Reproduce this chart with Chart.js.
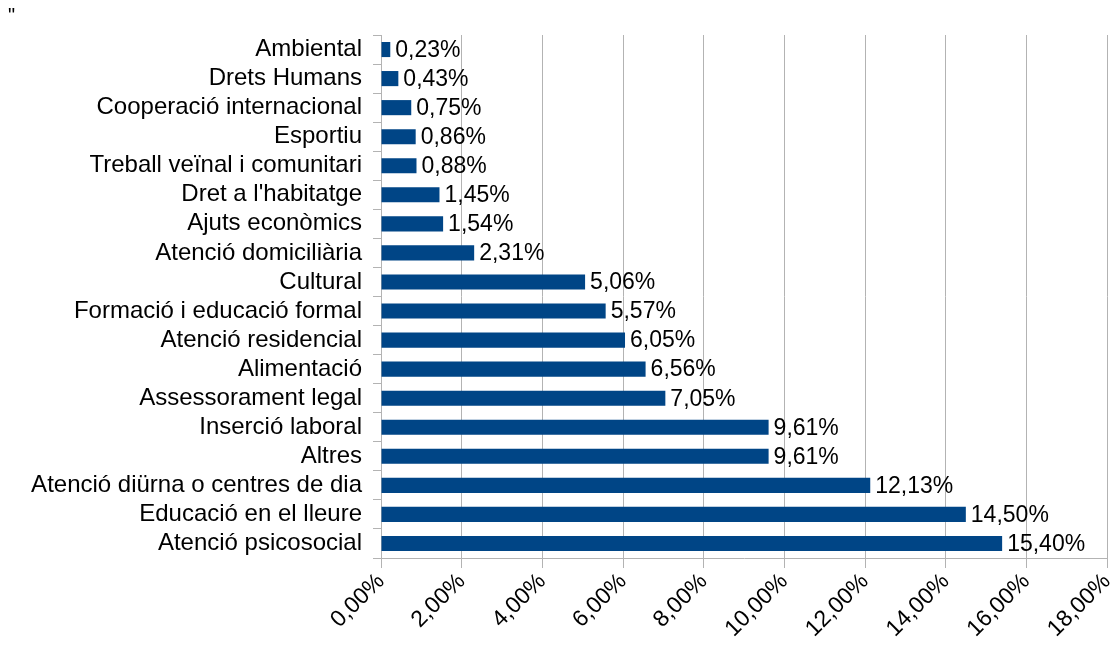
<!DOCTYPE html>
<html>
<head>
<meta charset="utf-8">
<script src="https://cdn.jsdelivr.net/npm/chart.js@4"></script>
<style>
  html, body { margin: 0; padding: 0; background: #fff; }
  #wrap { position: relative; width: 1116px; height: 650px; }
  #mark { position: absolute; left: 8px; top: 4px; font: 20px "Liberation Sans", Arial, sans-serif; color: #000; }
</style>
</head>
<body>
<div id="wrap">
  <canvas id="chart" width="1116" height="650"></canvas>
  <div id="mark">"</div>
</div>
<script>
const categories = [
  'Ambiental', 'Drets Humans', 'Cooperació internacional', 'Esportiu',
  'Treball veïnal i comunitari', "Dret a l'habitatge", 'Ajuts econòmics',
  'Atenció domiciliària', 'Cultural', 'Formació i educació formal',
  'Atenció residencial', 'Alimentació', 'Assessorament legal',
  'Inserció laboral', 'Altres', 'Atenció diürna o centres de dia',
  'Educació en el lleure', 'Atenció psicosocial'
];
const percentages = [
  0.23, 0.43, 0.75, 0.86, 0.88, 1.45, 1.54, 2.31, 5.06, 5.57,
  6.05, 6.56, 7.05, 9.61, 9.61, 12.13, 14.50, 15.40
];
const xTicks = [0, 2, 4, 6, 8, 10, 12, 14, 16, 18];

const FONT = '"Liberation Sans", Arial, sans-serif';
const fmt = v => v.toFixed(2).replace('.', ',') + '%';

const valueLabels = {
  id: 'valueLabels',
  afterDatasetsDraw(chart) {
    const ctx = chart.ctx;
    const meta = chart.getDatasetMeta(0);
    ctx.save();
    ctx.font = '23px ' + FONT;
    ctx.fillStyle = '#000';
    ctx.textAlign = 'left';
    ctx.textBaseline = 'middle';
    meta.data.forEach((bar, i) => {
      ctx.fillText(fmt(percentages[i]), bar.x + 5, bar.y + 1);
    });
    ctx.restore();
  }
};

new Chart(document.getElementById('chart'), {
  type: 'bar',
  data: {
    labels: categories,
    datasets: [{
      data: percentages,
      backgroundColor: '#004586',
      borderWidth: 0,
      barPercentage: 0.52,
      categoryPercentage: 1
    }]
  },
  options: {
    indexAxis: 'y',
    responsive: false,
    animation: false,
    layout: { padding: { top: 35, right: 9, left: 0, bottom: 0 } },
    plugins: { legend: { display: false }, tooltip: { enabled: false } },
    scales: {
      y: {
        afterFit(scale) { scale.width = 381; },
        grid: { display: true, drawOnChartArea: false, tickLength: 8, color: '#b3b3b3', offset: true },
        border: { color: '#b3b3b3' },
        ticks: { color: '#000', padding: 11, autoSkip: false, font: { family: FONT, size: 24 } }
      },
      x: {
        min: 0,
        max: 18,
        afterFit(scale) {
          scale.height = 650 - 35 - 523;
          scale.paddingLeft = 0;
          scale.paddingRight = 0;
        },
        afterBuildTicks(scale) { scale.ticks = xTicks.map(v => ({ value: v })); },
        grid: { color: '#b3b3b3', tickLength: 10 },
        border: { color: '#b3b3b3' },
        ticks: {
          color: '#000',
          maxRotation: 45,
          minRotation: 45,
          padding: 0,
          autoSkip: false,
          font: { family: FONT, size: 23 },
          callback: v => fmt(v)
        }
      }
    }
  },
  plugins: [valueLabels]
});
</script>
</body>
</html>
